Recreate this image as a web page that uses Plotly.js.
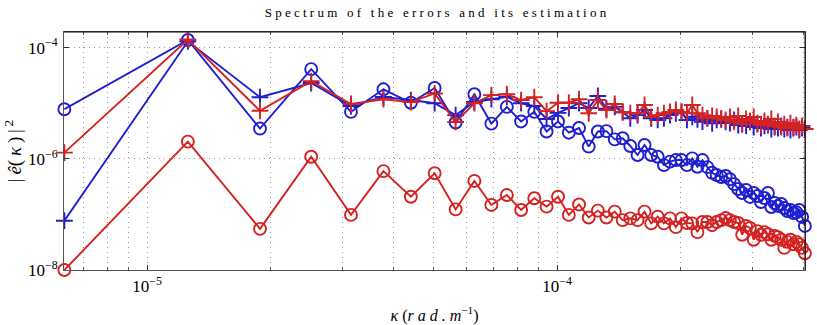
<!DOCTYPE html>
<html>
<head>
<meta charset="utf-8">
<script src="https://cdn.plot.ly/plotly-3.0.1.min.js"></script>
<style>
  html, body { margin: 0; padding: 0; background: #fff; }
  #graph { width: 817px; height: 325px; }
</style>
</head>
<body>
<div id="graph"></div>
<script>
// wavenumbers (rad/m)
var kappa = [
  6.283e-6, 1.257e-5, 1.885e-5, 2.513e-5, 3.142e-5, 3.770e-5, 4.398e-5, 5.027e-5,
  5.655e-5, 6.283e-5, 6.912e-5, 7.540e-5, 8.168e-5, 8.796e-5, 9.425e-5, 1.005e-4,
  1.068e-4, 1.131e-4, 1.194e-4, 1.257e-4, 1.319e-4, 1.382e-4, 1.445e-4, 1.508e-4,
  1.571e-4, 1.634e-4, 1.696e-4, 1.759e-4, 1.822e-4, 1.885e-4, 1.948e-4, 2.011e-4,
  2.073e-4, 2.136e-4, 2.199e-4, 2.262e-4, 2.325e-4, 2.388e-4, 2.450e-4, 2.513e-4,
  2.576e-4, 2.639e-4, 2.702e-4, 2.765e-4, 2.827e-4, 2.890e-4, 2.953e-4, 3.016e-4,
  3.079e-4, 3.142e-4, 3.204e-4, 3.267e-4, 3.330e-4, 3.393e-4, 3.456e-4, 3.519e-4,
  3.581e-4, 3.644e-4, 3.707e-4, 3.770e-4, 3.833e-4, 3.896e-4, 3.958e-4, 4.021e-4
];

var blueCircle = [
  7.8e-6, 1.37e-4, 3.5e-6, 4.1e-5, 7.0e-6, 1.78e-5, 1.02e-5, 1.88e-5,
  4.5e-6, 1.45e-5, 4.3e-6, 8.6e-6, 4.7e-6, 7.0e-6, 3.1e-6, 4.7e-6,
  2.95e-6, 3.58e-6, 1.66e-6, 3.1e-6, 3.15e-6, 2.24e-6, 2.34e-6, 1.70e-6,
  1.17e-6, 1.77e-6, 1.17e-6, 1.09e-6, 7.7e-7, 8.9e-7, 9.5e-7, 9.5e-7,
  7.7e-7, 1.02e-6, 7.2e-7, 9.5e-7, 7.1e-7, 5.6e-7, 5.1e-7, 4.7e-7,
  4.9e-7, 4.3e-7, 3.5e-7, 2.86e-7, 2.43e-7, 2.75e-7, 2.06e-7, 2.43e-7,
  2.14e-7, 1.67e-7, 1.97e-7, 2.43e-7, 1.36e-7, 1.60e-7, 1.42e-7, 1.54e-7,
  1.30e-7, 1.15e-7, 1.20e-7, 1.06e-7, 1.09e-7, 1.20e-7, 9.0e-8, 6.2e-8
];

var bluePlus = [
  7.7e-8, 1.3e-4, 1.28e-5, 2.31e-5, 8.9e-6, 1.29e-5, 1.14e-5, 1.0e-5,
  6.1e-6, 1.05e-5, 1.18e-5, 1.3e-5, 1.0e-5, 8.9e-6, 5.2e-6, 6.7e-6,
  8.2e-6, 1.0e-5, 8.2e-6, 1.35e-5, 8.0e-6, 8.6e-6, 6.9e-6, 5.35e-6,
  6.1e-6, 7.55e-6, 5.35e-6, 5.0e-6, 5.35e-6, 6.1e-6, 6.6e-6, 7.0e-6,
  5.0e-6, 5.7e-6, 5.1e-6, 4.65e-6, 5.35e-6, 4.35e-6, 5.0e-6, 5.1e-6,
  4.6e-6, 4.4e-6, 5.0e-6, 4.05e-6, 4.2e-6, 3.9e-6, 4.6e-6, 3.73e-6,
  4.2e-6, 3.58e-6, 3.9e-6, 4.05e-6, 3.44e-6, 3.73e-6, 3.58e-6, 3.9e-6,
  3.44e-6, 3.73e-6, 3.3e-6, 3.58e-6, 3.73e-6, 3.3e-6, 3.58e-6, 3.44e-6
];

var redPlus = [
  1.29e-6, 1.4e-4, 7.3e-6, 2.5e-5, 9.7e-6, 1.18e-5, 1.05e-5, 1.5e-5,
  4.6e-6, 1.0e-5, 1.4e-5, 1.45e-5, 1.14e-5, 1.28e-5, 7.2e-6, 1.02e-5,
  1.02e-5, 1.18e-5, 6.6e-6, 1.14e-5, 7.55e-6, 9.7e-6, 6.9e-6, 6.6e-6,
  6.6e-6, 9.3e-6, 5.7e-6, 6.1e-6, 6.6e-6, 7.0e-6, 7.55e-6, 7.0e-6,
  6.6e-6, 9.3e-6, 6.6e-6, 6.1e-6, 5.35e-6, 5.9e-6, 5.7e-6, 5.35e-6,
  5.0e-6, 5.65e-6, 4.6e-6, 5.9e-6, 4.2e-6, 5.2e-6, 4.8e-6, 5.65e-6,
  4.4e-6, 4.05e-6, 4.8e-6, 4.2e-6, 5.2e-6, 3.9e-6, 4.6e-6, 3.73e-6,
  4.2e-6, 3.58e-6, 4.4e-6, 3.73e-6, 4.05e-6, 3.44e-6, 3.9e-6, 3.44e-6
];

var redCircle = [
  1.0e-8, 2.04e-6, 5.5e-8, 1.09e-6, 9.8e-8, 6.0e-7, 2.08e-7, 5.5e-7,
  1.23e-7, 4.0e-7, 1.48e-7, 2.23e-7, 1.2e-7, 1.95e-7, 1.38e-7, 2.08e-7,
  9.8e-8, 1.51e-7, 8.8e-8, 1.17e-7, 8.8e-8, 1.12e-7, 7.9e-8, 8.5e-8,
  7.9e-8, 1.12e-7, 6.9e-8, 9.1e-8, 6.9e-8, 8.5e-8, 5.9e-8, 8.5e-8,
  7.0e-8, 6.9e-8, 4.8e-8, 7.3e-8, 7.3e-8, 6.4e-8, 7.3e-8, 7.9e-8,
  8.6e-8, 7.9e-8, 7.3e-8, 7.0e-8, 4.3e-8, 6.2e-8, 5.7e-8, 3.5e-8,
  5.0e-8, 4.3e-8, 4.8e-8, 4.4e-8, 3.5e-8, 4.1e-8, 3.9e-8, 3.5e-8,
  2.5e-8, 3.2e-8, 3.5e-8, 2.9e-8, 3.2e-8, 2.9e-8, 2.5e-8, 2.0e-8
];

var xTicks = [1e-5, 1e-4];
var xTickText = ['10<sup>\u22125</sup>', '10<sup>\u22124</sup>'];
var xMinor = [7e-6, 8e-6, 9e-6, 2e-5, 3e-5, 4e-5, 5e-5, 6e-5, 7e-5, 8e-5, 9e-5, 2e-4, 3e-4, 4e-4];
var yTicks = [1e-8, 1e-6, 1e-4];
var yTickText = ['10<sup>\u22128</sup>', '10<sup>\u22126</sup>', '10<sup>\u22124</sup>'];

var BLUE = '#1e1ed2';
var RED = '#d42222';

function series(y, color, symbol) {
  return {
    x: kappa, y: y, type: 'scatter', mode: 'lines+markers',
    cliponaxis: false,
    line: {color: color, width: 1.9},
    marker: {symbol: symbol, size: 12,
             color: color, line: {color: color, width: 1.9}},
    hoverinfo: 'x+y'
  };
}

var data = [
  series(blueCircle, BLUE, 'circle-open'),
  series(bluePlus, BLUE, 'cross-thin-open'),
  series(redPlus, RED, 'cross-thin-open'),
  series(redCircle, RED, 'circle-open')
];

var serif = 'Liberation Serif, DejaVu Serif, serif';
var GRID = '#9a9a9a';
var DOTS = '1px,4px';

var layout = {
  width: 817, height: 325,
  margin: {l: 64, r: 12, t: 32, b: 55},
  paper_bgcolor: '#fff', plot_bgcolor: '#fff',
  showlegend: false,
  font: {family: serif, color: '#000', size: 15},
  title: {
    text: 'S p e c t r u m \u2002o f \u2002t h e \u2002e r r o r s \u2002a n d \u2002i t s \u2002e s t i m a t i o n',
    font: {family: serif, size: 13, color: '#000'},
    x: 0.533, xanchor: 'center', y: 0.962, yanchor: 'middle'
  },
  xaxis: {
    type: 'log',
    range: [Math.log10(6.27e-6), Math.log10(4.023e-4)],
    tickvals: xTicks, ticktext: xTickText,
    ticks: 'inside', ticklen: 5, tickcolor: '#333',
    showline: true, linecolor: '#555', linewidth: 1, mirror: 'ticks',
    showgrid: true, gridcolor: GRID, griddash: DOTS, gridwidth: 1,
    zeroline: false,
    minor: {tickvals: xMinor, ticks: 'inside', ticklen: 3, tickcolor: '#555',
            showgrid: true, gridcolor: GRID, griddash: DOTS, gridwidth: 1},
    tickfont: {family: serif, size: 17},
    ticklabelstandoff: 1,
    title: {text: '<i>\u03ba</i> (<i>r a d . m</i><sup>\u22121</sup>)',
            font: {family: serif, size: 16}, standoff: 14}
  },
  yaxis: {
    type: 'log',
    range: [-8, -3.719],
    tickvals: yTicks, ticktext: yTickText,
    ticks: 'inside', ticklen: 5, tickcolor: '#333',
    showline: true, linecolor: '#555', linewidth: 1, mirror: 'ticks',
    showgrid: true, gridcolor: GRID, griddash: DOTS, gridwidth: 1,
    zeroline: false,
    tickfont: {family: serif, size: 17},
    ticklabelstandoff: 2,
    title: {text: '|\u2009<i>\u00ea</i>(\u2009<i>\u03ba</i>\u2009)\u2009|<sup>\u20092</sup>',
            font: {family: serif, size: 19}, standoff: 1}
  },
  shapes: [
    {type: 'line', xref: 'paper', yref: 'paper', x0: 0, x1: 1, y0: 1, y1: 1,
     line: {color: '#000', width: 1}},
    {type: 'line', xref: 'paper', yref: 'paper', x0: 1, x1: 1, y0: 0, y1: 1,
     line: {color: '#000', width: 1}}
  ]
};

Plotly.newPlot('graph', data, layout, {displayModeBar: false, staticPlot: true});
</script>
</body>
</html>
